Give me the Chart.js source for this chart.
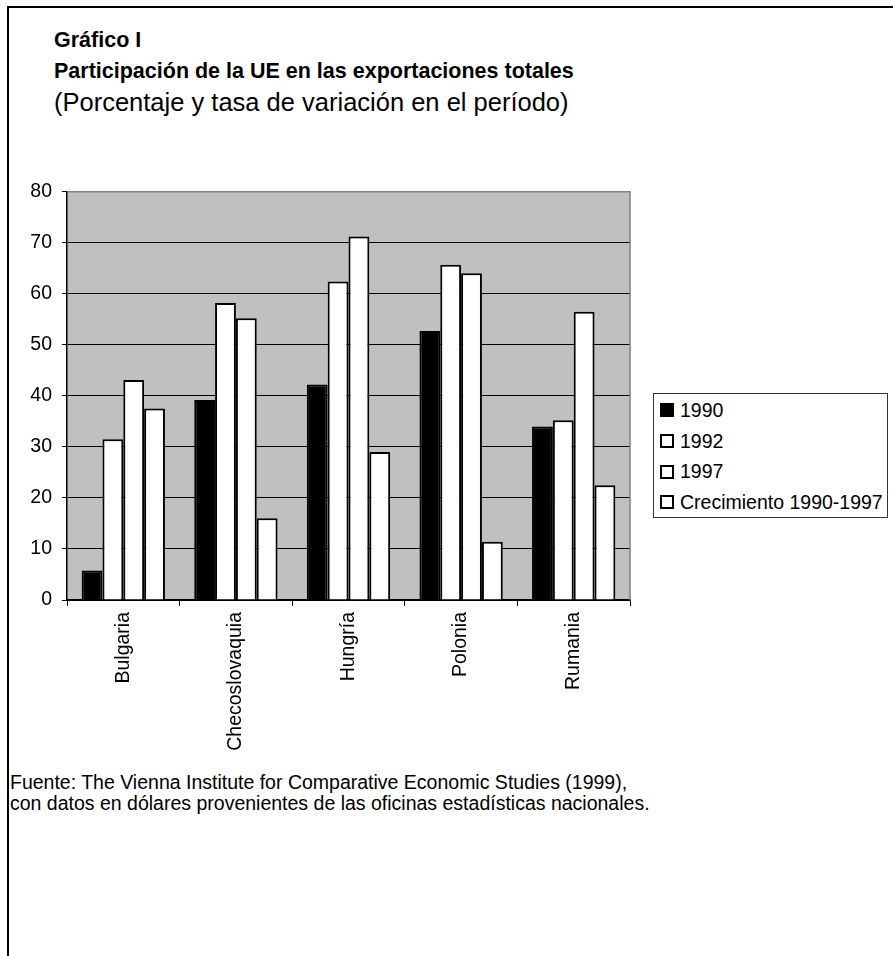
<!DOCTYPE html>
<html lang="es">
<head>
<meta charset="utf-8">
<title>Participación de la UE en las exportaciones totales</title>
<script src="https://cdn.jsdelivr.net/npm/chart.js@4.4.1/dist/chart.umd.min.js"></script>
<style>
  html, body { margin: 0; padding: 0; background: #fff; }
  body { width: 893px; height: 956px; position: relative; overflow: hidden; font-family: "Liberation Sans", Arial, sans-serif; color: #000; }
  #frame { position: absolute; left: 7px; top: 6px; width: 900px; height: 960px; border-left: 2px solid #000; border-top: 2px solid #000; }
  #titles { position: absolute; left: 54px; top: 25px; line-height: 31px; white-space: nowrap; }
  #titles .b { font-weight: bold; font-size: 21.5px; }
  #titles .s { font-size: 25.5px; }
  #chartBox { position: absolute; left: 0; top: 170px; width: 640px; height: 600px; }
  #legend { position: absolute; left: 653px; top: 393px; width: 235px; height: 125px; border: 1px solid #333; box-sizing: border-box; padding-top: 1px; }
  #legend .row { height: 30.7px; display: flex; align-items: center; padding-left: 6px; font-size: 19.5px; white-space: nowrap; }
  #legend .sw { width: 10px; height: 10px; border: 2px solid #000; margin-right: 6px; flex: none; }
  #source { position: absolute; left: 10px; top: 772px; font-size: 19.5px; line-height: 21px; white-space: nowrap; }
</style>
</head>
<body>
<div id="frame"></div>
<div id="titles">
  <div class="b">Gráfico I</div>
  <div class="b">Participación de la UE en las exportaciones totales</div>
  <div class="s">(Porcentaje y tasa de variación en el período)</div>
</div>
<div id="chartBox"><canvas id="euChart" width="640" height="600"></canvas></div>
<div id="legend"></div>
<div id="source">
  Fuente: The Vienna Institute for Comparative Economic Studies (1999),<br>
  con datos en dólares provenientes de las oficinas estadísticas nacionales.
</div>

<script>
// Datos: participación (%) de la UE en las exportaciones totales
const countries = ['Bulgaria', 'Checoslovaquia', 'Hungría', 'Polonia', 'Rumania'];
const share1990 = [5.8, 39.2, 42.2, 52.7, 34.0];
const share1992 = [31.5, 58.2, 62.4, 65.7, 35.2];
const share1997 = [43.1, 55.2, 71.2, 64.0, 56.5];
const growth9097 = [37.5, 16.0, 29.0, 11.4, 22.5];
const seriesLabels = ['1990', '1992', '1997', 'Crecimiento 1990-1997'];
const yMin = 0;
const yMax = 80;
const yStep = 10;

const fills = ['#000000', '#ffffff', '#ffffff', '#ffffff'];
const seriesData = [share1990, share1992, share1997, growth9097];
const tickFont = { family: 'Liberation Sans', size: 19.5 };

// Gray plot area with a gray frame on top and right
const plotBackground = {
  id: 'plotBackground',
  beforeDraw(chart) {
    const { ctx, chartArea: a } = chart;
    ctx.save();
    ctx.fillStyle = '#c0c0c0';
    ctx.fillRect(a.left, a.top, a.right - a.left, a.bottom - a.top);
    ctx.restore();
  },
  afterDraw(chart) {
    const { ctx, chartArea: a } = chart;
    ctx.save();
    ctx.strokeStyle = '#808080';
    ctx.lineWidth = 1.5;
    ctx.beginPath();
    ctx.moveTo(a.left, a.top);
    ctx.lineTo(a.right, a.top);
    ctx.lineTo(a.right, a.bottom);
    ctx.stroke();
    ctx.restore();
  },
};

const ctx = document.getElementById('euChart');
new Chart(ctx, {
  type: 'bar',
  data: {
    labels: countries,
    datasets: seriesLabels.map((label, i) => ({
      label: label,
      data: seriesData[i],
      backgroundColor: fills[i],
      borderColor: '#000000',
      borderWidth: 2,
      borderSkipped: 'start',
      categoryPercentage: 0.74,
      barPercentage: 1.0,
    })),
  },
  options: {
    responsive: false,
    animation: false,
    layout: { padding: { top: 21, right: 10, left: 0, bottom: 0 } },
    plugins: {
      legend: { display: false },
      tooltip: { enabled: false },
    },
    scales: {
      x: {
        offset: true,
        grid: {
          offset: true,
          drawOnChartArea: false,
          color: '#000000',
          tickLength: 6,
        },
        border: { color: '#000000', width: 1.5 },
        ticks: {
          color: '#000000',
          font: tickFont,
          minRotation: 90,
          maxRotation: 90,
          padding: 6,
        },
        afterFit(scale) { scale.height = 170; },
      },
      y: {
        min: yMin,
        max: yMax,
        ticks: {
          stepSize: yStep,
          color: '#000000',
          font: tickFont,
          padding: 10,
        },
        grid: {
          color: '#000000',
          tickLength: 5,
          lineWidth: 1,
        },
        border: { color: '#000000', width: 1.5 },
        afterFit(scale) { scale.width = 67; },
      },
    },
  },
  plugins: [plotBackground],
});

// Legend box drawn beside the plot
const legend = document.getElementById('legend');
seriesLabels.forEach((label, i) => {
  const row = document.createElement('div');
  row.className = 'row';
  const sw = document.createElement('span');
  sw.className = 'sw';
  sw.style.background = fills[i];
  row.appendChild(sw);
  row.appendChild(document.createTextNode(label));
  legend.appendChild(row);
});
</script>
</body>
</html>
